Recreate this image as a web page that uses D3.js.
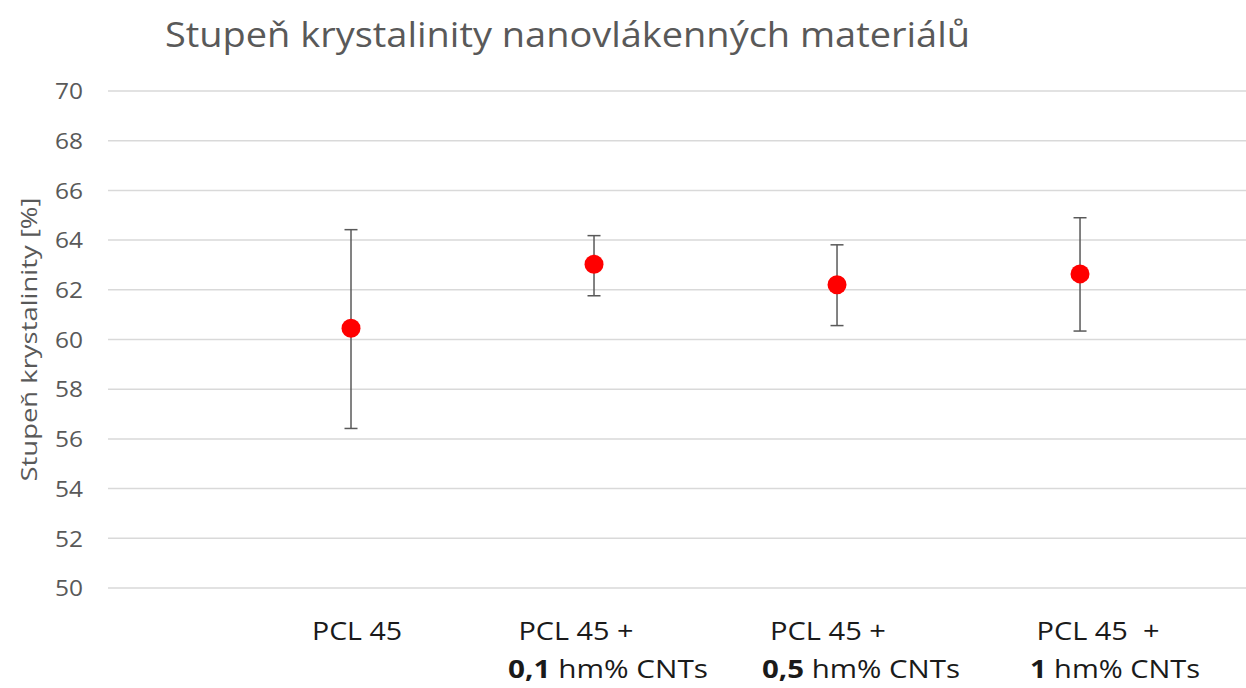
<!DOCTYPE html>
<html>
<head>
<meta charset="utf-8">
<script src="https://cdn.jsdelivr.net/npm/d3@7"></script>
<style>
  html, body { margin: 0; padding: 0; background: #fff; }
  svg { display: block; font-family: 'Open Sans', 'Liberation Sans', sans-serif; }
</style>
</head>
<body>
<div class="chart"></div>
<script>
// Stupeň krystalinity: mean + error bar per material
var categories = ['PCL 45', 'PCL 45 +|0,1| hm% CNTs', 'PCL 45 +|0,5| hm% CNTs', 'PCL 45  +|1| hm% CNTs']
var means  = [60.45, 63.03, 62.20, 62.64]
var errLow = [56.42, 61.76, 60.56, 60.34]
var errHigh = [64.42, 64.18, 63.81, 64.90]
var yTicks = [50, 52, 54, 56, 58, 60, 62, 64, 66, 68, 70]

var W = 1246, H = 688
var margin = {top: 91, right: 0, bottom: 100, left: 108}

var svg = d3.select('.chart').append('svg').attr('width', W).attr('height', H)

// x runs past the last point (source was a scatter with x = 1..4)
var x = d3.scaleLinear().domain([0, 4.683]).range([margin.left, W - margin.right])
var y = d3.scaleLinear().domain([50, 70]).range([H - margin.bottom, margin.top])

// ---- gridlines ----
svg.append('g').selectAll('line').data(yTicks).join('line')
  .attr('x1', margin.left).attr('x2', W)
  .attr('y1', y).attr('y2', y)
  .attr('stroke', '#d9d9d9').attr('stroke-width', 1.5)

// ---- y axis (labels only) ----
var yAxis = svg.append('g').attr('transform', 'translate(' + (margin.left - 25) + ',0)')
  .call(d3.axisLeft(y).tickValues(yTicks).tickSize(0).tickPadding(0))
yAxis.select('.domain').remove()
yAxis.selectAll('text')
  .attr('font-family', "'Open Sans', 'Liberation Sans', sans-serif")
  .attr('font-size', 22).attr('fill', '#595959').attr('dy', '0.35em')
  .attr('textLength', 28).attr('lengthAdjust', 'spacingAndGlyphs')

svg.append('text').text('Stupeň krystalinity [%]')
  .attr('transform', 'translate(37,' + ((y(50) + y(70)) / 2) + ') rotate(-90)')
  .attr('text-anchor', 'middle').attr('font-size', 21).attr('fill', '#595959')
  .attr('textLength', 284).attr('lengthAdjust', 'spacingAndGlyphs')

// ---- title ----
svg.append('text').text('Stupeň krystalinity nanovlákenných materiálů')
  .attr('x', 165).attr('y', 47).attr('font-size', 34).attr('fill', '#595959')
  .attr('textLength', 805).attr('lengthAdjust', 'spacingAndGlyphs')

// ---- error bars ----
var bars = svg.append('g').selectAll('g').data(means).join('g')
bars.append('line')
  .attr('x1', function(d, i){ return x(i + 1) }).attr('x2', function(d, i){ return x(i + 1) })
  .attr('y1', function(d, i){ return y(errLow[i]) }).attr('y2', function(d, i){ return y(errHigh[i]) })
  .attr('stroke', '#595959').attr('stroke-width', 1.5)
;[errLow, errHigh].forEach(function(arr){
  bars.append('line')
    .attr('x1', function(d, i){ return x(i + 1) - 6.5 }).attr('x2', function(d, i){ return x(i + 1) + 6.5 })
    .attr('y1', function(d, i){ return y(arr[i]) }).attr('y2', function(d, i){ return y(arr[i]) })
    .attr('stroke', '#595959').attr('stroke-width', 1.5)
})

// ---- markers ----
svg.append('g').selectAll('circle').data(means).join('circle')
  .attr('cx', function(d, i){ return x(i + 1) }).attr('cy', y)
  .attr('r', 9.5).attr('fill', '#ff0000')

// ---- category labels (text boxes, offset a little from the points) ----
var line1Shift = [6, -18, -9, 18]
var line1Width = [90, 115, 116, 123]
var line2Shift = [0, 14, 24, 35]
var line2Width = [0, 200, 198, 170]
var labs = svg.append('g').attr('font-size', 25).attr('fill', '#1a1a1a').attr('text-anchor', 'middle')
categories.forEach(function(c, i){
  var parts = c.split('|')
  labs.append('text').text(parts[0])
    .attr('x', x(i + 1) + line1Shift[i]).attr('y', 640).style('white-space', 'pre')
    .attr('textLength', line1Width[i]).attr('lengthAdjust', 'spacingAndGlyphs')
  if (parts.length > 1) {
    var t = labs.append('text').attr('x', x(i + 1) + line2Shift[i]).attr('y', 678)
      .attr('textLength', line2Width[i]).attr('lengthAdjust', 'spacingAndGlyphs')
    t.append('tspan').text(parts[1]).attr('font-weight', 700)
    t.append('tspan').text(parts[2])
  }
})
</script>
</body>
</html>
